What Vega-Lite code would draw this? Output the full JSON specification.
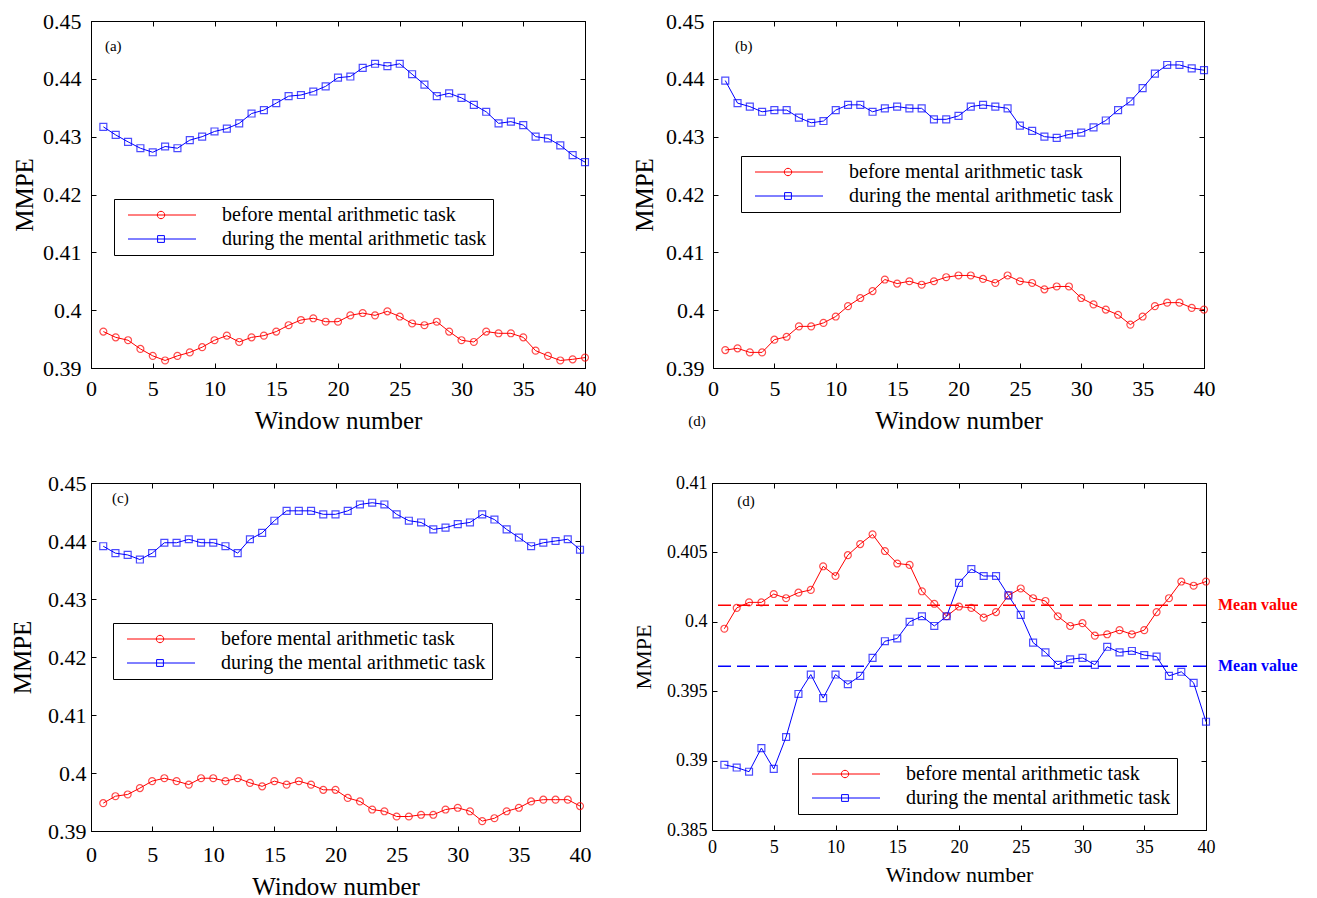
{
"$schema": "https://vega.github.io/schema/vega-lite/v6.json",
"background": "white",
"padding": {"left": 10, "top": 9, "right": 5, "bottom": 5},
"config": {
 "font": "Liberation Serif",
 "view": {"stroke": "black", "strokeWidth": 1},
 "axis": {"grid": false, "domainColor": "black", "domainWidth": 1, "tickColor": "black", "tickSize": -5, "tickWidth": 1, "labelColor": "black", "titleColor": "black", "labelFont": "Liberation Serif", "titleFont": "Liberation Serif", "titleFontWeight": "normal", "labelFlush": false, "labelOverlap": false, "labelBound": false},
 "text": {"font": "Liberation Serif", "color": "black"}
},
"datasets": {
 "a": [
  {"w":1,"before":0.3963,"during":0.4317},{"w":2,"before":0.3953,"during":0.4303},{"w":3,"before":0.3948,"during":0.4291},{"w":4,"before":0.3933,"during":0.4280},{"w":5,"before":0.3921,"during":0.4273},
  {"w":6,"before":0.3913,"during":0.4283},{"w":7,"before":0.3921,"during":0.4280},{"w":8,"before":0.3927,"during":0.4294},{"w":9,"before":0.3936,"during":0.4300},{"w":10,"before":0.3948,"during":0.4309},
  {"w":11,"before":0.3956,"during":0.4314},{"w":12,"before":0.3945,"during":0.4323},{"w":13,"before":0.3953,"during":0.4340},{"w":14,"before":0.3956,"during":0.4346},{"w":15,"before":0.3963,"during":0.4358},
  {"w":16,"before":0.3974,"during":0.4370},{"w":17,"before":0.3983,"during":0.4372},{"w":18,"before":0.3986,"during":0.4378},{"w":19,"before":0.3980,"during":0.4387},{"w":20,"before":0.3980,"during":0.4402},
  {"w":21,"before":0.3991,"during":0.4404},{"w":22,"before":0.3995,"during":0.4419},{"w":23,"before":0.3991,"during":0.4426},{"w":24,"before":0.3998,"during":0.4422},{"w":25,"before":0.3989,"during":0.4426},
  {"w":26,"before":0.3977,"during":0.4408},{"w":27,"before":0.3974,"during":0.4390},{"w":28,"before":0.3980,"during":0.4370},{"w":29,"before":0.3963,"during":0.4375},{"w":30,"before":0.3948,"during":0.4367},
  {"w":31,"before":0.3945,"during":0.4355},{"w":32,"before":0.3963,"during":0.4343},{"w":33,"before":0.3960,"during":0.4323},{"w":34,"before":0.3960,"during":0.4326},{"w":35,"before":0.3953,"during":0.4320},
  {"w":36,"before":0.3930,"during":0.4300},{"w":37,"before":0.3921,"during":0.4297},{"w":38,"before":0.3913,"during":0.4285},{"w":39,"before":0.3915,"during":0.4268},{"w":40,"before":0.3918,"during":0.4256}
 ],
 "b": [
  {"w":1,"before":0.3931,"during":0.4397},{"w":2,"before":0.3934,"during":0.4358},{"w":3,"before":0.3927,"during":0.4352},{"w":4,"before":0.3927,"during":0.4343},{"w":5,"before":0.3949,"during":0.4346},
  {"w":6,"before":0.3954,"during":0.4346},{"w":7,"before":0.3972,"during":0.4333},{"w":8,"before":0.3972,"during":0.4324},{"w":9,"before":0.3978,"during":0.4327},{"w":10,"before":0.3989,"during":0.4346},
  {"w":11,"before":0.4007,"during":0.4355},{"w":12,"before":0.4021,"during":0.4355},{"w":13,"before":0.4033,"during":0.4343},{"w":14,"before":0.4053,"during":0.4349},{"w":15,"before":0.4046,"during":0.4352},
  {"w":16,"before":0.4050,"during":0.4349},{"w":17,"before":0.4044,"during":0.4349},{"w":18,"before":0.4050,"during":0.4330},{"w":19,"before":0.4057,"during":0.4330},{"w":20,"before":0.4060,"during":0.4336},
  {"w":21,"before":0.4060,"during":0.4352},{"w":22,"before":0.4054,"during":0.4355},{"w":23,"before":0.4047,"during":0.4352},{"w":24,"before":0.4060,"during":0.4349},{"w":25,"before":0.4050,"during":0.4319},
  {"w":26,"before":0.4047,"during":0.4310},{"w":27,"before":0.4036,"during":0.4300},{"w":28,"before":0.4041,"during":0.4298},{"w":29,"before":0.4041,"during":0.4304},{"w":30,"before":0.4021,"during":0.4307},
  {"w":31,"before":0.4010,"during":0.4316},{"w":32,"before":0.4001,"during":0.4328},{"w":33,"before":0.3992,"during":0.4346},{"w":34,"before":0.3975,"during":0.4361},{"w":35,"before":0.3989,"during":0.4384},
  {"w":36,"before":0.4007,"during":0.4409},{"w":37,"before":0.4013,"during":0.4424},{"w":38,"before":0.4013,"during":0.4424},{"w":39,"before":0.4004,"during":0.4418},{"w":40,"before":0.4001,"during":0.4415}
 ],
 "c": [
  {"w":1,"before":0.3948,"during":0.4391},{"w":2,"before":0.3960,"during":0.4379},{"w":3,"before":0.3963,"during":0.4376},{"w":4,"before":0.3974,"during":0.4368},{"w":5,"before":0.3986,"during":0.4379},
  {"w":6,"before":0.3991,"during":0.4397},{"w":7,"before":0.3986,"during":0.4397},{"w":8,"before":0.3980,"during":0.4403},{"w":9,"before":0.3991,"during":0.4397},{"w":10,"before":0.3991,"during":0.4397},
  {"w":11,"before":0.3986,"during":0.4391},{"w":12,"before":0.3991,"during":0.4379},{"w":13,"before":0.3983,"during":0.4403},{"w":14,"before":0.3977,"during":0.4414},{"w":15,"before":0.3986,"during":0.4435},
  {"w":16,"before":0.3980,"during":0.4452},{"w":17,"before":0.3986,"during":0.4452},{"w":18,"before":0.3980,"during":0.4452},{"w":19,"before":0.3971,"during":0.4446},{"w":20,"before":0.3971,"during":0.4446},
  {"w":21,"before":0.3957,"during":0.4452},{"w":22,"before":0.3951,"during":0.4463},{"w":23,"before":0.3937,"during":0.4466},{"w":24,"before":0.3934,"during":0.4463},{"w":25,"before":0.3925,"during":0.4446},
  {"w":26,"before":0.3925,"during":0.4435},{"w":27,"before":0.3928,"during":0.4432},{"w":28,"before":0.3928,"during":0.4420},{"w":29,"before":0.3937,"during":0.4423},{"w":30,"before":0.3940,"during":0.4429},
  {"w":31,"before":0.3934,"during":0.4432},{"w":32,"before":0.3917,"during":0.4446},{"w":33,"before":0.3922,"during":0.4437},{"w":34,"before":0.3934,"during":0.4420},{"w":35,"before":0.3940,"during":0.4406},
  {"w":36,"before":0.3951,"during":0.4391},{"w":37,"before":0.3954,"during":0.4397},{"w":38,"before":0.3954,"during":0.4400},{"w":39,"before":0.3954,"during":0.4403},{"w":40,"before":0.3943,"during":0.4385}
 ],
 "d": [
  {"w":1,"before":0.3995,"during":0.3897},{"w":2,"before":0.4010,"during":0.3895},{"w":3,"before":0.4014,"during":0.3892},{"w":4,"before":0.4014,"during":0.3909},{"w":5,"before":0.4020,"during":0.3894},
  {"w":6,"before":0.4017,"during":0.3917},{"w":7,"before":0.4021,"during":0.3948},{"w":8,"before":0.4023,"during":0.3962},{"w":9,"before":0.4040,"during":0.3945},{"w":10,"before":0.4033,"during":0.3962},
  {"w":11,"before":0.4048,"during":0.3955},{"w":12,"before":0.4056,"during":0.3961},{"w":13,"before":0.4063,"during":0.3974},{"w":14,"before":0.4051,"during":0.3986},{"w":15,"before":0.4042,"during":0.3988},
  {"w":16,"before":0.4041,"during":0.4000},{"w":17,"before":0.4022,"during":0.4004},{"w":18,"before":0.4013,"during":0.3997},{"w":19,"before":0.4004,"during":0.4004},{"w":20,"before":0.4011,"during":0.4028},
  {"w":21,"before":0.4010,"during":0.4038},{"w":22,"before":0.4003,"during":0.4033},{"w":23,"before":0.4007,"during":0.4033},{"w":24,"before":0.4019,"during":0.4019},{"w":25,"before":0.4024,"during":0.4005},
  {"w":26,"before":0.4017,"during":0.3985},{"w":27,"before":0.4015,"during":0.3978},{"w":28,"before":0.4004,"during":0.3969},{"w":29,"before":0.3997,"during":0.3973},{"w":30,"before":0.3999,"during":0.3974},
  {"w":31,"before":0.3990,"during":0.3969},{"w":32,"before":0.3991,"during":0.3982},{"w":33,"before":0.3994,"during":0.3978},{"w":34,"before":0.3991,"during":0.3979},{"w":35,"before":0.3994,"during":0.3976},
  {"w":36,"before":0.4007,"during":0.3975},{"w":37,"before":0.4017,"during":0.3961},{"w":38,"before":0.4029,"during":0.3964},{"w":39,"before":0.4026,"during":0.3956},{"w":40,"before":0.4029,"during":0.3928}
 ],
 "dmean": [
  {"series":"before","v":0.4012,"label":"Mean value"},
  {"series":"during","v":0.3968,"label":"Mean value"}
 ]
},
"spacing": 37,
"resolve": {"scale": {"color": "independent", "shape": "independent"}},
"vconcat": [
 {
  "spacing": 35,
  "resolve": {"scale": {"color": "independent", "shape": "independent"}},
  "hconcat": [
   {
    "width": 494, "height": 347,
    "resolve": {"axis": {"x": "independent", "y": "independent"}},
    "layer": [
     {
      "data": {"name": "a"},
      "transform": [{"fold": ["before", "during"], "as": ["series", "v"]}],
      "mark": {"type": "line", "strokeWidth": 1},
      "encoding": {
       "x": {"field": "w", "type": "quantitative", "scale": {"domain": [0, 40], "nice": false, "zero": false}, "axis": {"orient": "bottom", "values": [0,5,10,15,20,25,30,35,40], "title": "Window number", "labelFontSize": 22, "titleFontSize": 25, "labelPadding": 15, "titlePadding": 9}},
       "y": {"field": "v", "type": "quantitative", "scale": {"domain": [0.39, 0.45], "nice": false, "zero": false}, "axis": {"orient": "left", "values": [0.39,0.4,0.41,0.42,0.43,0.44,0.45], "format": "~g", "title": "MMPE", "labelFontSize": 22, "titleFontSize": 25, "labelPadding": 15, "titlePadding": 5}},
       "color": {"field": "series", "type": "nominal", "scale": {"domain": ["before", "during"], "range": ["#ff0000", "#0000ff"]},
        "legend": {"title": null, "orient": "none", "legendX": 23, "legendY": 178, "padding": 6, "strokeColor": "black", "fillColor": "white", "labelFont": "Liberation Serif", "labelFontSize": 20, "labelColor": "black", "labelLimit": 0, "symbolSize": 100, "symbolStrokeWidth": 1, "labelOffset": 82, "rowPadding": 4,
         "labelExpr": "datum.value === 'before' ? 'before mental arithmetic task' : 'during the mental arithmetic task'",
         "encode": {"symbols": {"update": {"shape": {"signal": "datum.value === 'before' ? 'M-0.4,0H13.2M6.94,0A0.74,0.74,0,1,1,5.46,0A0.74,0.74,0,1,1,6.94,0' : 'M-0.4,0H13.2M5.52,-0.68H6.88V0.68H5.52Z'"}, "fill": {"value": "transparent"}}}}}}
      }
     },
     {
      "data": {"name": "a"},
      "transform": [{"fold": ["before", "during"], "as": ["series", "v"]}],
      "mark": {"type": "point", "filled": false, "size": 48, "strokeWidth": 1.2},
      "encoding": {
       "x": {"field": "w", "type": "quantitative", "axis": null},
       "y": {"field": "v", "type": "quantitative", "axis": null},
       "color": {"field": "series", "type": "nominal", "scale": {"domain": ["before", "during"], "range": ["#ff0000", "#0000ff"]},
        "legend": {"title": null, "orient": "none", "legendX": 23, "legendY": 178, "padding": 6, "strokeColor": "black", "fillColor": "white", "labelFont": "Liberation Serif", "labelFontSize": 20, "labelColor": "black", "labelLimit": 0, "symbolSize": 100, "symbolStrokeWidth": 1, "labelOffset": 82, "rowPadding": 4,
         "labelExpr": "datum.value === 'before' ? 'before mental arithmetic task' : 'during the mental arithmetic task'",
         "encode": {"symbols": {"update": {"shape": {"signal": "datum.value === 'before' ? 'M-0.4,0H13.2M6.94,0A0.74,0.74,0,1,1,5.46,0A0.74,0.74,0,1,1,6.94,0' : 'M-0.4,0H13.2M5.52,-0.68H6.88V0.68H5.52Z'"}, "fill": {"value": "transparent"}}}}}},
       "shape": {"field": "series", "type": "nominal", "scale": {"domain": ["during", "before"], "range": ["square", "circle"]}, "legend": null}
      }
     },
     {
      "data": {"values": [{"t": "(a)"}]},
      "mark": {"type": "text", "fontSize": 15, "align": "center", "baseline": "middle"},
      "encoding": {
       "text": {"field": "t"},
       "x": {"datum": 1.8, "type": "quantitative", "axis": {"orient": "top", "values": [0,5,10,15,20,25,30,35,40], "labels": false, "title": null}},
       "y": {"datum": 0.4457, "type": "quantitative", "axis": {"orient": "right", "values": [0.39,0.4,0.41,0.42,0.43,0.44,0.45], "labels": false, "title": null}}
      }
     }
    ]
   },
   {
    "width": 491, "height": 347,
    "resolve": {"axis": {"x": "independent", "y": "independent"}},
    "layer": [
     {
      "data": {"name": "b"},
      "transform": [{"fold": ["before", "during"], "as": ["series", "v"]}],
      "mark": {"type": "line", "strokeWidth": 1},
      "encoding": {
       "x": {"field": "w", "type": "quantitative", "scale": {"domain": [0, 40], "nice": false, "zero": false}, "axis": {"orient": "bottom", "values": [0,5,10,15,20,25,30,35,40], "title": "Window number", "labelFontSize": 22, "titleFontSize": 25, "labelPadding": 15, "titlePadding": 9}},
       "y": {"field": "v", "type": "quantitative", "scale": {"domain": [0.39, 0.45], "nice": false, "zero": false}, "axis": {"orient": "left", "values": [0.39,0.4,0.41,0.42,0.43,0.44,0.45], "format": "~g", "title": "MMPE", "labelFontSize": 22, "titleFontSize": 25, "labelPadding": 14, "titlePadding": 8}},
       "color": {"field": "series", "type": "nominal", "scale": {"domain": ["before", "during"], "range": ["#ff0000", "#0000ff"]},
        "legend": {"title": null, "orient": "none", "legendX": 28, "legendY": 135, "padding": 6, "strokeColor": "black", "fillColor": "white", "labelFont": "Liberation Serif", "labelFontSize": 20, "labelColor": "black", "labelLimit": 0, "symbolSize": 100, "symbolStrokeWidth": 1, "labelOffset": 82, "rowPadding": 4,
         "labelExpr": "datum.value === 'before' ? 'before mental arithmetic task' : 'during the mental arithmetic task'",
         "encode": {"symbols": {"update": {"shape": {"signal": "datum.value === 'before' ? 'M-0.4,0H13.2M6.94,0A0.74,0.74,0,1,1,5.46,0A0.74,0.74,0,1,1,6.94,0' : 'M-0.4,0H13.2M5.52,-0.68H6.88V0.68H5.52Z'"}, "fill": {"value": "transparent"}}}}}}
      }
     },
     {
      "data": {"name": "b"},
      "transform": [{"fold": ["before", "during"], "as": ["series", "v"]}],
      "mark": {"type": "point", "filled": false, "size": 48, "strokeWidth": 1.2},
      "encoding": {
       "x": {"field": "w", "type": "quantitative", "axis": null},
       "y": {"field": "v", "type": "quantitative", "axis": null},
       "color": {"field": "series", "type": "nominal", "scale": {"domain": ["before", "during"], "range": ["#ff0000", "#0000ff"]},
        "legend": {"title": null, "orient": "none", "legendX": 28, "legendY": 135, "padding": 6, "strokeColor": "black", "fillColor": "white", "labelFont": "Liberation Serif", "labelFontSize": 20, "labelColor": "black", "labelLimit": 0, "symbolSize": 100, "symbolStrokeWidth": 1, "labelOffset": 82, "rowPadding": 4,
         "labelExpr": "datum.value === 'before' ? 'before mental arithmetic task' : 'during the mental arithmetic task'",
         "encode": {"symbols": {"update": {"shape": {"signal": "datum.value === 'before' ? 'M-0.4,0H13.2M6.94,0A0.74,0.74,0,1,1,5.46,0A0.74,0.74,0,1,1,6.94,0' : 'M-0.4,0H13.2M5.52,-0.68H6.88V0.68H5.52Z'"}, "fill": {"value": "transparent"}}}}}},
       "shape": {"field": "series", "type": "nominal", "scale": {"domain": ["during", "before"], "range": ["square", "circle"]}, "legend": null}
      }
     },
     {
      "data": {"values": [{"t": "(b)"}]},
      "mark": {"type": "text", "fontSize": 15, "align": "center", "baseline": "middle"},
      "encoding": {
       "text": {"field": "t"},
       "x": {"datum": 2.5, "type": "quantitative", "axis": {"orient": "top", "values": [0,5,10,15,20,25,30,35,40], "labels": false, "title": null}},
       "y": {"datum": 0.4457, "type": "quantitative", "axis": {"orient": "right", "values": [0.39,0.4,0.41,0.42,0.43,0.44,0.45], "labels": false, "title": null}}
      }
     },
     {
      "data": {"values": [{"t": "(d)"}]},
      "mark": {"type": "text", "fontSize": 15, "align": "center", "baseline": "middle"},
      "encoding": {
       "text": {"field": "t"},
       "x": {"datum": -1.3, "type": "quantitative", "axis": null},
       "y": {"datum": 0.3808, "type": "quantitative", "axis": null}
      }
     }
    ]
   }
  ]
 },
 {
  "spacing": 40,
  "resolve": {"scale": {"color": "independent", "shape": "independent"}},
  "hconcat": [
   {
    "width": 489, "height": 348,
    "resolve": {"axis": {"x": "independent", "y": "independent"}},
    "layer": [
     {
      "data": {"name": "c"},
      "transform": [{"fold": ["before", "during"], "as": ["series", "v"]}],
      "mark": {"type": "line", "strokeWidth": 1},
      "encoding": {
       "x": {"field": "w", "type": "quantitative", "scale": {"domain": [0, 40], "nice": false, "zero": false}, "axis": {"orient": "bottom", "values": [0,5,10,15,20,25,30,35,40], "title": "Window number", "labelFontSize": 22, "titleFontSize": 25, "labelPadding": 18, "titlePadding": 9}},
       "y": {"field": "v", "type": "quantitative", "scale": {"domain": [0.39, 0.45], "nice": false, "zero": false}, "axis": {"orient": "left", "values": [0.39,0.4,0.41,0.42,0.43,0.44,0.45], "format": "~g", "title": "MMPE", "labelFontSize": 22, "titleFontSize": 25, "labelPadding": 10, "titlePadding": 12}},
       "color": {"field": "series", "type": "nominal", "scale": {"domain": ["before", "during"], "range": ["#ff0000", "#0000ff"]},
        "legend": {"title": null, "orient": "none", "legendX": 22, "legendY": 140, "padding": 6, "strokeColor": "black", "fillColor": "white", "labelFont": "Liberation Serif", "labelFontSize": 20, "labelColor": "black", "labelLimit": 0, "symbolSize": 100, "symbolStrokeWidth": 1, "labelOffset": 82, "rowPadding": 4,
         "labelExpr": "datum.value === 'before' ? 'before mental arithmetic task' : 'during the mental arithmetic task'",
         "encode": {"symbols": {"update": {"shape": {"signal": "datum.value === 'before' ? 'M-0.4,0H13.2M6.94,0A0.74,0.74,0,1,1,5.46,0A0.74,0.74,0,1,1,6.94,0' : 'M-0.4,0H13.2M5.52,-0.68H6.88V0.68H5.52Z'"}, "fill": {"value": "transparent"}}}}}}
      }
     },
     {
      "data": {"name": "c"},
      "transform": [{"fold": ["before", "during"], "as": ["series", "v"]}],
      "mark": {"type": "point", "filled": false, "size": 48, "strokeWidth": 1.2},
      "encoding": {
       "x": {"field": "w", "type": "quantitative", "axis": null},
       "y": {"field": "v", "type": "quantitative", "axis": null},
       "color": {"field": "series", "type": "nominal", "scale": {"domain": ["before", "during"], "range": ["#ff0000", "#0000ff"]},
        "legend": {"title": null, "orient": "none", "legendX": 22, "legendY": 140, "padding": 6, "strokeColor": "black", "fillColor": "white", "labelFont": "Liberation Serif", "labelFontSize": 20, "labelColor": "black", "labelLimit": 0, "symbolSize": 100, "symbolStrokeWidth": 1, "labelOffset": 82, "rowPadding": 4,
         "labelExpr": "datum.value === 'before' ? 'before mental arithmetic task' : 'during the mental arithmetic task'",
         "encode": {"symbols": {"update": {"shape": {"signal": "datum.value === 'before' ? 'M-0.4,0H13.2M6.94,0A0.74,0.74,0,1,1,5.46,0A0.74,0.74,0,1,1,6.94,0' : 'M-0.4,0H13.2M5.52,-0.68H6.88V0.68H5.52Z'"}, "fill": {"value": "transparent"}}}}}},
       "shape": {"field": "series", "type": "nominal", "scale": {"domain": ["during", "before"], "range": ["square", "circle"]}, "legend": null}
      }
     },
     {
      "data": {"values": [{"t": "(c)"}]},
      "mark": {"type": "text", "fontSize": 15, "align": "center", "baseline": "middle"},
      "encoding": {
       "text": {"field": "t"},
       "x": {"datum": 2.4, "type": "quantitative", "axis": {"orient": "top", "values": [0,5,10,15,20,25,30,35,40], "labels": false, "title": null}},
       "y": {"datum": 0.4474, "type": "quantitative", "axis": {"orient": "right", "values": [0.39,0.4,0.41,0.42,0.43,0.44,0.45], "labels": false, "title": null}}
      }
     }
    ]
   },
   {
    "width": 494, "height": 347,
    "resolve": {"axis": {"x": "independent", "y": "independent"}},
    "layer": [
     {
      "data": {"name": "d"},
      "transform": [{"fold": ["before", "during"], "as": ["series", "v"]}],
      "mark": {"type": "line", "strokeWidth": 1},
      "encoding": {
       "x": {"field": "w", "type": "quantitative", "scale": {"domain": [0, 40], "nice": false, "zero": false}, "axis": {"orient": "bottom", "values": [0,5,10,15,20,25,30,35,40], "title": "Window number", "labelFontSize": 18, "titleFontSize": 22, "labelPadding": 13, "titlePadding": 8}},
       "y": {"field": "v", "type": "quantitative", "scale": {"domain": [0.385, 0.41], "nice": false, "zero": false}, "axis": {"orient": "left", "values": [0.385,0.39,0.395,0.4,0.405,0.41], "format": "~g", "title": "MMPE", "labelFontSize": 18, "titleFontSize": 22, "labelPadding": 10, "titlePadding": 11}},
       "color": {"field": "series", "type": "nominal", "scale": {"domain": ["before", "during"], "range": ["#ff0000", "#0000ff"]},
        "legend": {"title": null, "orient": "none", "legendX": 86, "legendY": 275, "padding": 6, "strokeColor": "black", "fillColor": "white", "labelFont": "Liberation Serif", "labelFontSize": 20, "labelColor": "black", "labelLimit": 0, "symbolSize": 100, "symbolStrokeWidth": 1, "labelOffset": 82, "rowPadding": 4,
         "labelExpr": "datum.value === 'before' ? 'before mental arithmetic task' : 'during the mental arithmetic task'",
         "encode": {"symbols": {"update": {"shape": {"signal": "datum.value === 'before' ? 'M-0.4,0H13.2M6.94,0A0.74,0.74,0,1,1,5.46,0A0.74,0.74,0,1,1,6.94,0' : 'M-0.4,0H13.2M5.52,-0.68H6.88V0.68H5.52Z'"}, "fill": {"value": "transparent"}}}}}}
      }
     },
     {
      "data": {"name": "d"},
      "transform": [{"fold": ["before", "during"], "as": ["series", "v"]}],
      "mark": {"type": "point", "filled": false, "size": 48, "strokeWidth": 1.2},
      "encoding": {
       "x": {"field": "w", "type": "quantitative", "axis": null},
       "y": {"field": "v", "type": "quantitative", "axis": null},
       "color": {"field": "series", "type": "nominal", "scale": {"domain": ["before", "during"], "range": ["#ff0000", "#0000ff"]},
        "legend": {"title": null, "orient": "none", "legendX": 86, "legendY": 275, "padding": 6, "strokeColor": "black", "fillColor": "white", "labelFont": "Liberation Serif", "labelFontSize": 20, "labelColor": "black", "labelLimit": 0, "symbolSize": 100, "symbolStrokeWidth": 1, "labelOffset": 82, "rowPadding": 4,
         "labelExpr": "datum.value === 'before' ? 'before mental arithmetic task' : 'during the mental arithmetic task'",
         "encode": {"symbols": {"update": {"shape": {"signal": "datum.value === 'before' ? 'M-0.4,0H13.2M6.94,0A0.74,0.74,0,1,1,5.46,0A0.74,0.74,0,1,1,6.94,0' : 'M-0.4,0H13.2M5.52,-0.68H6.88V0.68H5.52Z'"}, "fill": {"value": "transparent"}}}}}},
       "shape": {"field": "series", "type": "nominal", "scale": {"domain": ["during", "before"], "range": ["square", "circle"]}, "legend": null}
      }
     },
     {
      "data": {"name": "dmean"},
      "transform": [{"filter": "datum.series === 'before'"}],
      "mark": {"type": "rule", "color": "#ff0000", "strokeWidth": 1.5, "strokeDash": [13, 6]},
      "encoding": {"y": {"field": "v", "type": "quantitative", "axis": null}}
     },
     {
      "data": {"name": "dmean"},
      "transform": [{"filter": "datum.series === 'during'"}],
      "mark": {"type": "rule", "color": "#0000ff", "strokeWidth": 1.5, "strokeDash": [13, 6]},
      "encoding": {"y": {"field": "v", "type": "quantitative", "axis": null}}
     },
     {
      "data": {"name": "dmean"},
      "transform": [{"filter": "datum.series === 'before'"}],
      "mark": {"type": "text", "color": "#ff0000", "fontSize": 16, "fontWeight": "bold", "align": "left", "baseline": "middle", "dx": 12},
      "encoding": {
       "text": {"field": "label"},
       "x": {"datum": 40, "type": "quantitative", "axis": null},
       "y": {"field": "v", "type": "quantitative", "axis": null}
      }
     },
     {
      "data": {"name": "dmean"},
      "transform": [{"filter": "datum.series === 'during'"}],
      "mark": {"type": "text", "color": "#0000ff", "fontSize": 16, "fontWeight": "bold", "align": "left", "baseline": "middle", "dx": 12},
      "encoding": {
       "text": {"field": "label"},
       "x": {"datum": 40, "type": "quantitative", "axis": null},
       "y": {"field": "v", "type": "quantitative", "axis": null}
      }
     },
     {
      "data": {"values": [{"t": "(d)"}]},
      "mark": {"type": "text", "fontSize": 15, "align": "center", "baseline": "middle"},
      "encoding": {
       "text": {"field": "t"},
       "x": {"datum": 2.75, "type": "quantitative", "axis": {"orient": "top", "values": [0,5,10,15,20,25,30,35,40], "labels": false, "title": null}},
       "y": {"datum": 0.4087, "type": "quantitative", "axis": {"orient": "right", "values": [0.385,0.39,0.395,0.4,0.405,0.41], "labels": false, "title": null}}
      }
     }
    ]
   }
  ]
 }
]
}
